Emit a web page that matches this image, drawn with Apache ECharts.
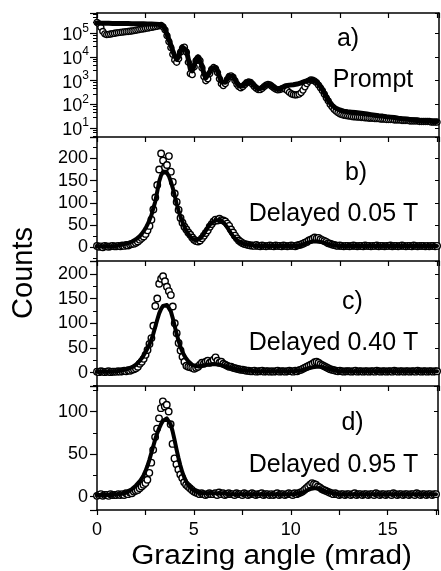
<!DOCTYPE html>
<html><head><meta charset="utf-8">
<script src="https://cdn.jsdelivr.net/npm/echarts@6/dist/echarts.min.js"></script>
<style>html,body{margin:0;padding:0;background:#fff}#c{width:441px;height:571px}</style>
</head><body><div id="c"></div>
<script>
// Grazing angle (mrad)
const xs = [
0,0.1,0.2,0.3,0.4,0.5,0.6,0.7,0.8,0.9,
1,1.1,1.2,1.3,1.4,1.5,1.6,1.7,1.8,1.9,
2,2.1,2.2,2.3,2.4,2.5,2.6,2.7,2.8,2.9,
3,3.1,3.2,3.3,3.4,3.5,3.6,3.7,3.8,3.9,
4,4.1,4.2,4.3,4.4,4.5,4.6,4.7,4.8,4.9,
5,5.1,5.2,5.3,5.4,5.5,5.6,5.7,5.8,5.9,
6,6.1,6.2,6.3,6.4,6.5,6.6,6.7,6.8,6.9,
7,7.1,7.2,7.3,7.4,7.5,7.6,7.7,7.8,7.9,
8,8.1,8.2,8.3,8.4,8.5,8.6,8.7,8.8,8.9,
9,9.1,9.2,9.3,9.4,9.5,9.6,9.7,9.8,9.9,
10,10.1,10.2,10.3,10.4,10.5,10.6,10.7,10.8,10.9,
11,11.1,11.2,11.3,11.4,11.5,11.6,11.7,11.8,11.9,
12,12.1,12.2,12.3,12.4,12.5,12.6,12.7,12.8,12.9,
13,13.1,13.2,13.3,13.4,13.5,13.6,13.7,13.8,13.9,
14,14.1,14.2,14.3,14.4,14.5,14.6,14.7,14.8,14.9,
15,15.1,15.2,15.3,15.4,15.5,15.6,15.7,15.8,15.9,
16,16.1,16.2,16.3,16.4,16.5,16.6,16.7,16.8,16.9,
17,17.1,17.2,17.3,17.4,17.5];

// a) Prompt: fit and measured counts
const promptFit = [
270000,270000,268000,266000,265000,264000,263000,262000,262000,261000,
260000,260000,259000,259000,258000,258000,257000,257000,256000,256000,
255000,255000,254000,253000,252000,251000,250000,249000,248000,246000,
244000,240000,234000,225000,200000,150000,90000,55000,32000,18000,
11000,8000,10000,18000,26000,28000,19000,8000,3200,2600,
4500,8000,10000,8500,4500,2000,1300,1500,2300,3300,
3900,3600,2600,1500,900,750,850,1200,1600,1700,
1500,1100,800,620,560,600,720,860,920,880,
740,600,500,450,450,500,580,680,720,680,
600,520,460,430,450,500,560,610,640,650,
660,670,690,720,760,810,870,940,1000,1050,
1080,1070,1000,880,720,560,420,300,210,150,
115,92,78,68,62,58,55,52,50,49,
48,47,46,45,44,43,42,41,40,39,
38,37,36,35,34,33,33,32,31,30,
30,29,28,28,27,26,26,25,25,24,
24,23,23,22,22,21,21,21,20,20,
20,20,19,19,19,19];
const promptData = [
290000,250000,180000,120000,95000,88000,90000,93000,97000,100000,
104000,107000,110000,112000,115000,118000,120000,123000,126000,130000,
135000,140000,145000,150000,155000,160000,165000,172000,178000,185000,
192000,200000,210000,215000,185000,140000,80000,45000,25000,13000,
7500,6000,8500,16000,24000,26000,16000,6000,2000,1800,
3800,7000,9000,7000,3500,1500,1000,1200,2000,3000,
3600,3200,2200,1200,750,620,750,1100,1500,1600,
1400,1000,700,560,500,560,680,820,880,840,
700,560,470,420,420,470,560,650,700,660,
580,500,440,410,420,450,470,440,380,320,
280,260,250,255,270,310,400,550,750,950,
1080,1050,960,820,650,500,380,270,190,140,
100,78,62,52,45,40,37,35,34,33,
32,31,30,30,29,29,28,28,27,27,
26,26,26,25,25,25,24,24,24,23,
23,23,23,22,22,22,22,21,21,21,
21,20,20,20,20,20,19,19,19,19,
19,19,18,18,18,18];

// b) Delayed 0.05 T
const d005Fit = [
2,2,2,2,2,2,2,2,2,3,
3,4,5,6,7,8,9,11,13,15,
18,21,25,30,36,43,51,61,72,88,
103,125,148,162,169,170,167,160,148,133,
116,98,82,68,56,46,37,30,24,19,
16,15,16,19,24,30,37,44,50,55,
58,60,61,61,59,56,51,45,38,31,
25,20,16,12,10,8,7,6,5,5,
4,4,4,3,3,3,3,3,3,3,
3,3,3,3,3,3,3,3,3,3,
3,3,3,3,4,5,6,8,9,11,
12,13,13,13,13,12,11,10,8,7,
6,5,4,4,3,3,3,3,3,3,
3,3,3,3,3,3,3,3,3,3,
3,3,3,3,3,3,3,3,3,3,
3,3,3,3,3,3,3,3,3,3,
3,3,3,3,3,3,3,3,3,3,
3,3,3,3,3,3];
const d005Data = [
3,1,2,0,3,2,1,2,3,2,
2,3,2,4,3,5,4,6,7,8,
10,13,17,21,24,30,38,48,62,85,
112,140,175,211,195,180,185,205,170,147,
121,102,84,66,55,46,40,33,28,22,
17,14,13,15,20,26,32,38,46,52,
58,62,60,64,61,60,58,53,48,40,
33,26,20,15,12,9,7,6,5,4,
4,3,5,3,2,4,3,2,3,4,
3,2,4,3,3,2,4,3,2,3,
4,3,2,4,5,6,8,10,12,15,
17,19,22,20,21,18,16,14,12,9,
8,6,5,4,3,4,3,2,3,3,
2,3,4,3,2,3,3,2,4,3,
3,2,3,3,4,2,3,3,2,3,
3,4,2,3,3,2,3,4,3,2,
3,3,2,4,3,2,3,3,3,2,
3,2,3,3,2,3];

// c) Delayed 0.40 T
const d040Fit = [
2,2,2,2,2,2,2,2,2,3,
3,3,4,5,6,7,8,9,11,13,
16,20,24,29,35,42,49,57,67,79,
93,107,120,129,135,137,137,133,124,110,
94,78,64,52,42,34,28,23,19,16,
14,13,13,13,14,15,16,16,17,17,
17,17,16,16,15,14,13,12,11,10,
9,8,7,6,6,5,5,4,4,4,
4,3,3,3,3,3,3,3,3,3,
3,3,3,3,3,3,3,3,3,3,
3,3,3,4,4,5,6,7,8,9,
10,11,12,12,12,12,11,10,9,8,
7,6,5,4,4,3,3,3,3,3,
3,3,3,3,3,3,3,3,3,3,
3,3,3,3,3,3,3,3,3,3,
3,3,3,3,3,3,3,3,3,3,
3,3,3,3,3,3,3,3,3,3,
3,3,3,3,3,3];
const d040Data = [
2,1,3,2,1,2,3,1,2,2,
2,3,2,3,4,3,5,4,6,7,
9,12,18,22,28,36,46,58,70,95,
135,150,180,190,195,185,174,165,157,134,
100,80,60,45,32,22,14,12,11,10,
8,10,12,16,20,18,22,24,20,22,
26,31,24,20,22,18,16,14,12,12,
10,9,8,7,6,6,5,4,4,3,
3,4,2,3,3,4,2,3,3,2,
3,2,3,4,2,3,3,2,3,4,
3,2,4,3,5,6,8,10,12,14,
16,18,21,22,20,17,15,13,11,9,
7,6,5,4,3,4,3,2,3,3,
3,2,3,4,2,3,3,2,3,3,
2,3,3,2,4,3,2,3,3,2,
3,3,2,4,3,2,3,3,2,3,
3,2,3,3,2,4,3,2,3,3,
2,3,3,2,3,3];

// d) Delayed 0.95 T
const d095Fit = [
2,2,2,2,2,2,2,2,2,2,
3,3,3,4,4,5,6,7,9,11,
13,15,18,21,25,30,36,43,51,59,
67,74,80,85,89,91,92,90,85,77,
67,56,46,37,29,23,18,14,11,9,
7,6,5,5,4,4,4,4,4,4,
4,4,4,4,4,4,4,4,3,3,
3,3,3,3,3,3,3,3,3,3,
3,3,3,3,3,3,3,3,3,3,
3,3,3,3,3,3,3,3,3,3,
3,3,3,3,4,4,5,6,7,8,
9,10,10,10,10,9,8,7,6,5,
5,4,4,3,3,3,3,3,3,3,
3,3,3,3,3,3,3,3,3,3,
3,3,3,3,3,3,3,3,3,3,
3,3,3,3,3,3,3,3,3,3,
3,3,3,3,3,3,3,3,3,3,
3,3,3,3,3,3];
const d095Data = [
1,2,3,1,2,2,1,3,2,2,
2,3,2,3,2,4,3,5,4,6,
7,8,10,12,14,16,20,28,40,55,
70,80,92,104,112,106,108,100,85,62,
45,38,32,26,22,17,14,12,10,8,
6,5,4,3,4,3,2,3,4,3,
3,4,2,5,3,4,2,3,4,3,
3,2,4,3,3,2,4,3,2,3,
4,3,2,3,3,4,2,3,3,2,
3,2,3,4,2,3,3,2,3,4,
3,2,4,3,4,5,6,8,10,12,
14,16,15,14,12,11,9,8,7,6,
5,4,3,4,3,2,3,3,2,3,
3,2,3,4,2,3,3,2,3,3,
2,3,3,2,4,3,2,3,3,2,
3,3,2,4,3,2,3,3,2,3,
3,2,3,3,2,4,3,2,3,3,
2,3,3,2,3,3];

// tick labels
const xTickLabels = [0, 5, 10, 15];
const logExponents = [1, 2, 3, 4, 5];
const yTicksB = [0, 50, 100, 150, 200];
const yTicksC = [0, 50, 100, 150, 200];
const yTicksD = [0, 50, 100];
const panelLetters = ['a)', 'b)', 'c)', 'd)'];
const panelNames = ['Prompt', 'Delayed 0.05 T', 'Delayed 0.40 T', 'Delayed 0.95 T'];
const xTitle = 'Grazing angle (mrad)';
const yTitle = 'Counts';

const FONT = '"Liberation Sans", Arial, Helvetica, sans-serif';
const chart = echarts.init(document.getElementById('c'), null, {renderer: 'canvas'});

const gridPos = [
  {top: 13, height: 124},
  {top: 137, height: 124},
  {top: 261, height: 125},
  {top: 386, height: 124}
];
const yRanges = [[4.2, 720000], [-31, 248], [-27, 226], [-15.6, 130]];
const yTickSets = [null, yTicksB, yTicksC, yTicksD];

function pairs(arr) {
  return xs.map((x, i) => [x, arr[i]]).filter(p => p[1] != null);
}
function isPow10(v) {
  const l = Math.log10(v);
  return Math.abs(l - Math.round(l)) < 1e-6;
}

const grid = gridPos.map(g => ({left: 97, right: 2, top: g.top, height: g.height, containLabel: false}));

const xAxis = [];
for (let i = 0; i < 4; i++) {
  xAxis.push({
    type: 'value', gridIndex: i, position: 'bottom', min: 0, max: 17.6, interval: 2.5,
    axisLine: {show: true, onZero: false, lineStyle: {color: '#000', width: 1.5}},
    axisTick: {show: true, inside: false, length: 5, lineStyle: {color: '#000', width: 1.2}},
    splitLine: {show: false},
    axisLabel: {show: i === 3, margin: 11, fontSize: 18, color: '#000', fontFamily: FONT,
      formatter: v => xTickLabels.some(t => Math.abs(t - v) < 1e-9) ? String(v) : ''}
  });
}
xAxis.push({
  type: 'value', gridIndex: 0, position: 'top', min: 0, max: 17.6, interval: 2.5,
  axisLine: {show: true, onZero: false, lineStyle: {color: '#000', width: 1.5}},
  axisTick: {show: true, inside: true, length: 5, lineStyle: {color: '#000', width: 1.2}},
  splitLine: {show: false}, axisLabel: {show: false}
});

const yAxis = [];
for (let i = 0; i < 4; i++) {
  const isLog = i === 0;
  const base = {
    gridIndex: i, position: 'left', min: yRanges[i][0], max: yRanges[i][1],
    axisLine: {show: true, onZero: false, lineStyle: {color: '#000', width: 1.5}},
    axisTick: {show: true, inside: false, length: 7, lineStyle: {color: '#000', width: 1.2}},
    minorTick: {show: true, splitNumber: isLog ? 5 : 2, length: 4, lineStyle: {color: '#000', width: 1}},
    splitLine: {show: false}, minorSplitLine: {show: false}
  };
  if (isLog) {
    Object.assign(base, {
      type: 'log', logBase: 10,
      axisLabel: {show: true, margin: 8, color: '#000', fontFamily: FONT,
        formatter: v => {
          if (!isPow10(v)) return '';
          const e = Math.round(Math.log10(v));
          return logExponents.includes(e) ? '{b|10}{s|' + e + '}' : '';
        },
        rich: {
          b: {fontSize: 18, fontFamily: FONT, color: '#000', lineHeight: 22, verticalAlign: 'bottom'},
          s: {fontSize: 12, fontFamily: FONT, color: '#000', lineHeight: 22, verticalAlign: 'top', padding: [0, 0, 6, 0]}
        }
      }
    });
  } else {
    Object.assign(base, {
      type: 'value', minInterval: 50, maxInterval: 50,
      axisLabel: {show: true, margin: 9, fontSize: 18, color: '#000', fontFamily: FONT,
        formatter: v => yTickSets[i].some(t => Math.abs(t - v) < 1e-9) ? String(v) : ''}
    });
  }
  yAxis.push(base);
}
for (let i = 0; i < 4; i++) {
  const isLog = i === 0;
  const ax = {
    gridIndex: i, position: 'right', min: yRanges[i][0], max: yRanges[i][1],
    axisLine: {show: true, onZero: false, lineStyle: {color: '#000', width: 1.5}},
    axisTick: {show: true, inside: true, length: 4, lineStyle: {color: '#000', width: 1}},
    splitLine: {show: false}, axisLabel: {show: false}
  };
  if (isLog) Object.assign(ax, {type: 'log', logBase: 10});
  else Object.assign(ax, {type: 'value', minInterval: 50, maxInterval: 50});
  yAxis.push(ax);
}

const panels = [
  {fit: promptFit, data: promptData, sym: 6, lw: 5, bw: 1.4},
  {fit: d005Fit, data: d005Data, sym: 6.5, lw: 4, bw: 1.4},
  {fit: d040Fit, data: d040Data, sym: 6.5, lw: 4, bw: 1.4},
  {fit: d095Fit, data: d095Data, sym: 6.5, lw: 4, bw: 1.4}
];
const series = [];
panels.forEach((p, i) => {
  series.push({
    type: 'scatter', xAxisIndex: i, yAxisIndex: i, data: pairs(p.data),
    symbol: 'circle', symbolSize: p.sym, z: 2, silent: true,
    itemStyle: {color: '#fff', borderColor: '#000', borderWidth: p.bw, opacity: 1}
  });
  series.push({
    type: 'line', xAxisIndex: i, yAxisIndex: i, data: pairs(p.fit),
    showSymbol: false, symbol: 'none', z: 3, silent: true,
    lineStyle: {color: '#000', width: p.lw, join: 'round', cap: 'round'}
  });
});

function txt(text, x, y, size, extra) {
  return Object.assign({
    type: 'text', x: x, y: y, silent: true, z: 100,
    style: {text: text, fontSize: size, fontFamily: FONT, fill: '#000',
      align: 'center', verticalAlign: 'middle', textAlign: 'center', textVerticalAlign: 'middle'}
  }, extra || {});
}
const labelPos = [
  {lx: 348, ly: 39, nx: 373, ny: 80},
  {lx: 356, ly: 173, nx: 333.5, ny: 214},
  {lx: 352.5, ly: 302, nx: 333.5, ny: 343},
  {lx: 352.5, ly: 423, nx: 333.5, ny: 465}
];
const graphic = [];
labelPos.forEach((p, i) => {
  graphic.push(txt(panelLetters[i], p.lx, p.ly, 25));
  graphic.push(txt(panelNames[i], p.nx, p.ny, 25));
});
graphic.push(txt(yTitle, 24, 273, 29, {rotation: Math.PI / 2}));
graphic.push(txt(xTitle, 271.5, 557, 27, {scaleX: 1.1}));

chart.setOption({
  animation: false,
  backgroundColor: '#fff',
  grid: grid,
  xAxis: xAxis,
  yAxis: yAxis,
  series: series,
  graphic: graphic
});
</script>
</body></html>
